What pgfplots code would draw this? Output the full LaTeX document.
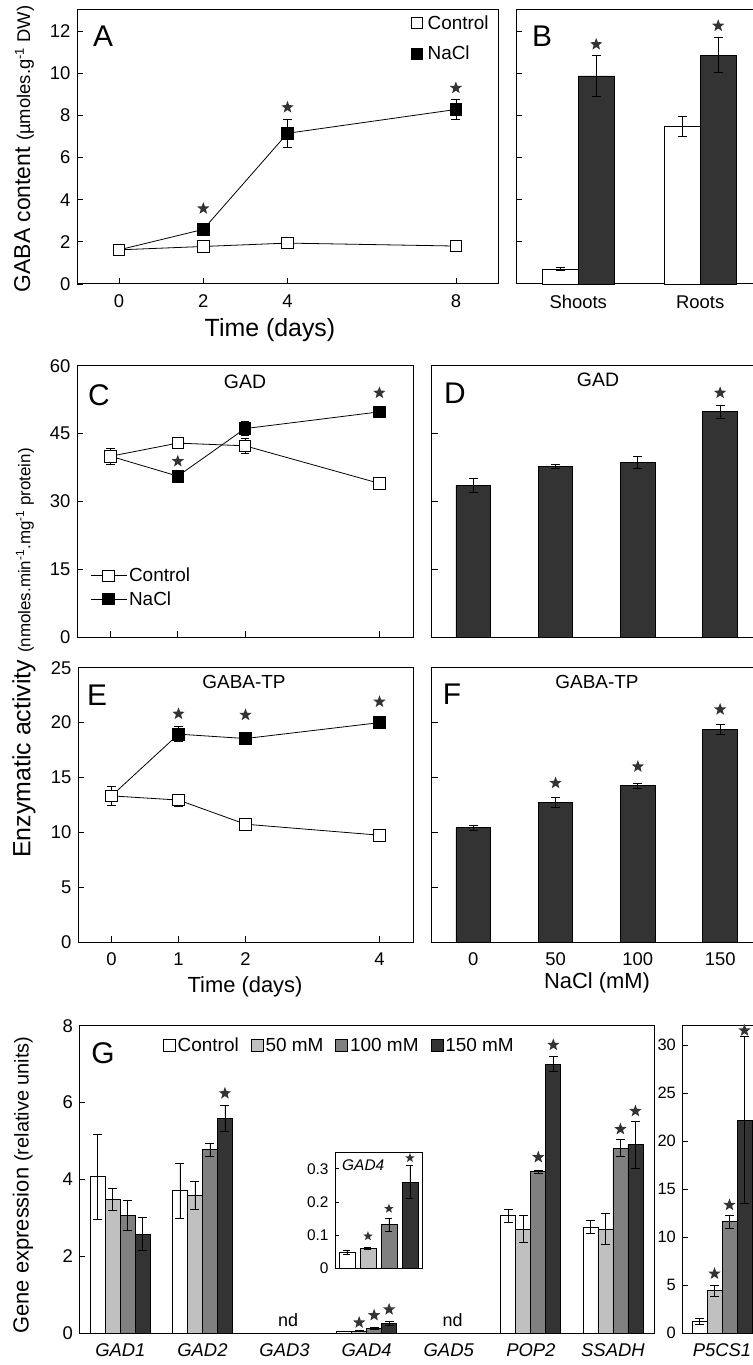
\documentclass[border=0pt]{standalone}
\usepackage{fontspec}
\setmainfont{Liberation Sans}
\usepackage{pgfplots}
\pgfplotsset{compat=1.18}

\definecolor{dk}{HTML}{333333}
\definecolor{lg}{HTML}{C0C0C0}
\definecolor{mg}{HTML}{808080}

% filled five-point star for significance
\pgfdeclareplotmark{fstar}{%
  \pgfpathmoveto{\pgfpointpolar{90}{\pgfplotmarksize}}%
  \pgfpathlineto{\pgfpointpolar{126}{0.42\pgfplotmarksize}}%
  \pgfpathlineto{\pgfpointpolar{162}{\pgfplotmarksize}}%
  \pgfpathlineto{\pgfpointpolar{198}{0.42\pgfplotmarksize}}%
  \pgfpathlineto{\pgfpointpolar{234}{\pgfplotmarksize}}%
  \pgfpathlineto{\pgfpointpolar{270}{0.42\pgfplotmarksize}}%
  \pgfpathlineto{\pgfpointpolar{306}{\pgfplotmarksize}}%
  \pgfpathlineto{\pgfpointpolar{342}{0.42\pgfplotmarksize}}%
  \pgfpathlineto{\pgfpointpolar{18}{\pgfplotmarksize}}%
  \pgfpathlineto{\pgfpointpolar{54}{0.42\pgfplotmarksize}}%
  \pgfpathclose\pgfusepathqfill}

\pgfplotsset{
  panel/.style={scale only axis, anchor=south west, clip=false,
    axis line style={line width=1pt}, tick align=inside,
    xtick pos=bottom, ytick pos=left, major tick length=6bp,
    every tick/.style={black, line width=0.8pt},
    tick label style={font=\fontsize{18.5}{18.5}\selectfont},
    x tick label style={yshift=-7bp}, y tick label style={xshift=-3bp},
    /pgf/number format/assume math mode=true, ymin=0,
    error bars/error bar style={line width=0.8pt, black},
    error bars/error mark options={rotate=90, mark size=4.5pt, line width=0.8pt, black}},
  sig/.style={only marks, mark=fstar, mark size=6.5pt, color=dk, mark options={fill=dk}},
  ctl/.style={black, line width=0.8pt, mark=square*, mark size=5.8pt, mark options={fill=white, line width=0.8pt}},
  nacl/.style={black, line width=0.8pt, mark=square*, mark size=5.8pt, mark options={fill=black}},
  errs/.style={error bars/y dir=both, error bars/y explicit},
  bar/.style={ybar, bar shift=0pt, draw=black, line width=0.8pt},
}

\begin{document}
\begin{tikzpicture}
\useasboundingbox (0,0) rectangle (753bp,1365bp);

% ---------- A ----------
\begin{axis}[panel, at={(77bp,1081bp)}, width=421bp, height=274bp,
  xmin=-1, xmax=9, ymax=13, xtick={0,2,4,8}, ytick={0,2,...,12},
  legend style={at={(0.99,0.995)}, anchor=north east, draw=none, fill=none,
    font=\fontsize{19}{19}\selectfont, row sep=11bp,
    /tikz/every odd column/.append style={column sep=3bp}}, legend cell align=left]
  \addlegendimage{only marks, mark=square*, mark size=5.5pt, mark options={fill=white, line width=0.8pt}}
  \addlegendentry{Control}
  \addlegendimage{only marks, mark=square*, mark size=5.5pt, mark options={fill=black}}
  \addlegendentry{NaCl}
  \addplot[nacl, errs, forget plot] coordinates {
    (0,1.62) +- (0,0.08) (2,2.59) +- (0,0.15) (4,7.15) +- (0,0.65) (8,8.28) +- (0,0.48)};
  \addplot[ctl, errs, forget plot] coordinates {
    (0,1.62) +- (0,0.08) (2,1.78) +- (0,0.1) (4,1.94) +- (0,0.1) (8,1.8) +- (0,0.1)};
  \addplot[sig, forget plot] coordinates {(2,3.58) (4,8.38) (8,9.3)};
\end{axis}

% ---------- B ----------
\begin{axis}[panel, at={(516bp,1081bp)}, width=245bp, height=274bp,
  xmin=-0.51, xmax=1.498, ymax=13, xtick={0,1}, xticklabels={Shoots,Roots},
  x tick label style={text height=14bp, text depth=0bp},
  x tick style={draw=none}, ytick={2,4,...,12}, yticklabels={}]
  \addplot[bar, fill=white, bar width=0.295, errs] coordinates {
    (-0.1475,0.71) +- (0,0.07) (0.8525,7.47) +- (0,0.46)};
  \addplot[bar, fill=dk, bar width=0.295, errs] coordinates {
    (0.1475,9.87) +- (0,0.97) (1.1475,10.86) +- (0,0.83)};
  \addplot[sig] coordinates {(0.1475,11.37) (1.1475,12.25)};
\end{axis}

% ---------- C ----------
\begin{axis}[panel, at={(77bp,727.7bp)}, width=336bp, height=271.6bp,
  xmin=-0.5, xmax=4.5, ymax=60, xtick={0,1,2,4}, xticklabels={},
  ytick={0,15,...,60},
  legend style={at={(0.03,0.27)}, anchor=north west, draw=none, fill=none,
    font=\fontsize{19}{19}\selectfont, row sep=4bp}, legend cell align=left,
  legend image code/.code={\draw[mark repeat=2,mark phase=2,#1] plot coordinates {(0bp,0bp) (18bp,0bp) (36bp,0bp)};}]
  \addlegendimage{ctl}
  \addlegendentry{Control}
  \addlegendimage{nacl}
  \addlegendentry{NaCl}
  \addplot[nacl, errs, forget plot] coordinates {
    (0,40) +- (0,1.8) (1,35.6) +- (0,1.0) (2,46.1) +- (0,1.5) (4,49.8) +- (0,1.0)};
  \addplot[ctl, errs, forget plot] coordinates {
    (0,40) +- (0,1.8) (1,42.9) +- (0,0.5) (2,42.3) +- (0,1.6) (4,34.0) +- (0,1.2)};
  \addplot[sig, forget plot] coordinates {(1,38.9) (4,54)};
\end{axis}

% ---------- D ----------
\begin{axis}[panel, at={(431.7bp,727.7bp)}, width=330bp, height=271.6bp,
  xmin=-0.505, xmax=3.505, ymax=60, xtick={0,1,2,3}, xticklabels={},
  x tick style={draw=none}, ytick={15,30,45}, yticklabels={}]
  \addplot[bar, fill=dk, bar width=0.42, errs] coordinates {
    (0,33.6) +- (0,1.5) (1,37.7) +- (0,0.5) (2,38.7) +- (0,1.3) (3,49.8) +- (0,1.5)};
  \addplot[sig] coordinates {(3,54)};
\end{axis}

% ---------- E ----------
\begin{axis}[panel, at={(78bp,422.7bp)}, width=335bp, height=274.6bp,
  xmin=-0.5, xmax=4.5, ymax=25, xtick={0,1,2,4}, ytick={0,5,...,25}]
  \addplot[nacl, errs] coordinates {
    (0,13.33) +- (0,0.85) (1,18.95) +- (0,0.7) (2,18.55) +- (0,0.3) (4,20.0) +- (0,0.3)};
  \addplot[ctl, errs] coordinates {
    (0,13.33) +- (0,0.85) (1,12.95) +- (0,0.55) (2,10.75) +- (0,0.2) (4,9.75) +- (0,0.2)};
  \addplot[sig] coordinates {(1,20.8) (2,20.7) (4,21.9)};
\end{axis}

% ---------- F ----------
\begin{axis}[panel, at={(431.7bp,422.7bp)}, width=330bp, height=274.6bp,
  xmin=-0.505, xmax=3.505, ymax=25, xtick={0,1,2,3}, xticklabels={0,50,100,150},
  x tick style={draw=none}, ytick={5,10,...,20}, yticklabels={}]
  \addplot[bar, fill=dk, bar width=0.42, errs] coordinates {
    (0,10.42) +- (0,0.25) (1,12.75) +- (0,0.45) (2,14.24) +- (0,0.25) (3,19.36) +- (0,0.45)};
  \addplot[sig] coordinates {(1,14.5) (2,16.0) (3,21.2)};
\end{axis}

% ---------- G ----------
\begin{axis}[panel, at={(79.3bp,31.7bp)}, width=574.7bp, height=307.6bp,
  xmin=-0.5, xmax=6.5, ymax=8, ytick={0,2,...,8},
  xtick={0,...,6}, x tick style={draw=none},
  xticklabels={\textit{GAD1},\textit{GAD2},\textit{GAD3},\textit{GAD4},\textit{GAD5},\textit{POP2},\textit{SSADH}},
  x tick label style={font=\fontsize{18.5}{18.5}\selectfont},
  legend columns=4, legend cell align=left,
  legend style={at={(0.14,0.975)}, anchor=north west, draw=none, fill=none,
    font=\fontsize{19}{19}\selectfont, /tikz/every even column/.append style={column sep=10bp}},
  legend image code/.code={\draw[#1] (0bp,-6bp) rectangle (12bp,6bp);}]
  \addplot[bar, fill=white, bar width=0.1827, errs] coordinates {
    (-0.274,4.07) +- (0,1.1) (0.726,3.71) +- (0,0.72) (2.726,0.047) +- (0,0.005)
    (4.726,3.06) +- (0,0.17) (5.726,2.76) +- (0,0.17)};
  \addlegendentry{Control}
  \addplot[bar, fill=lg, bar width=0.1827, errs] coordinates {
    (-0.0914,3.49) +- (0,0.29) (0.9086,3.58) +- (0,0.36) (2.9086,0.06) +- (0,0.005)
    (4.9086,2.71) +- (0,0.35) (5.9086,2.71) +- (0,0.41)};
  \addlegendentry{50 mM}
  \addplot[bar, fill=mg, bar width=0.1827, errs] coordinates {
    (0.0914,3.06) +- (0,0.39) (1.0914,4.77) +- (0,0.16) (3.0914,0.13) +- (0,0.02)
    (5.0914,4.2) +- (0,0.03) (6.0914,4.81) +- (0,0.22)};
  \addlegendentry{100 mM}
  \addplot[bar, fill=dk, bar width=0.1827, errs] coordinates {
    (0.274,2.58) +- (0,0.43) (1.274,5.59) +- (0,0.35) (3.274,0.26) +- (0,0.05)
    (5.274,7.0) +- (0,0.2) (6.274,4.9) +- (0,0.61)};
  \addlegendentry{150 mM}
  \addplot[sig, forget plot] coordinates {(1.274,6.24) (2.909,0.28) (3.091,0.47) (3.274,0.62)
    (5.091,4.58) (5.274,7.5) (6.091,5.31) (6.274,5.78)};
\end{axis}

% ---------- G inset (GAD4) ----------
\begin{axis}[panel, at={(335bp,96.7bp)}, width=87.3bp, height=116bp,
  axis background/.style={fill=white},
  xmin=-0.57, xmax=3.59, ymax=0.35, ytick={0,0.1,0.2,0.3}, xtick=\empty,
  tick label style={font=\fontsize{15.5}{15.5}\selectfont}, major tick length=4bp,
  error bars/error mark options={rotate=90, mark size=3.5pt, line width=0.8pt, black}]
  \addplot[bar, fill=white, bar width=0.76, errs] coordinates {(0,0.047) +- (0,0.006)};
  \addplot[bar, fill=lg, bar width=0.76, errs] coordinates {(1,0.06) +- (0,0.002)};
  \addplot[bar, fill=mg, bar width=0.76, errs] coordinates {(2,0.132) +- (0,0.02)};
  \addplot[bar, fill=dk, bar width=0.76, errs] coordinates {(3,0.26) +- (0,0.05)};
  \addplot[sig, mark size=5pt] coordinates {(1,0.097) (2,0.18) (3,0.333)};
\end{axis}

% ---------- P5CS1 ----------
\begin{axis}[panel, at={(682.3bp,31.7bp)}, width=78.7bp, height=307.6bp,
  xmin=-39.7, xmax=39, ymax=32, ytick={0,5,...,30},
  tick label style={font=\fontsize{16.5}{16.5}\selectfont},
  xtick={0}, xticklabels={\textit{P5CS1}}, x tick style={draw=none},
  x tick label style={font=\fontsize{18.5}{18.5}\selectfont}]
  \addplot[bar, fill=white, bar width=15, errs] coordinates {(-22.5,1.2) +- (0,0.3)};
  \addplot[bar, fill=lg, bar width=15, errs] coordinates {(-7.5,4.43) +- (0,0.6)};
  \addplot[bar, fill=mg, bar width=15, errs] coordinates {(7.5,11.6) +- (0,0.7)};
  \addplot[bar, fill=dk, bar width=15, errs] coordinates {(22.5,22.2) +- (0,8.7)};
  \addplot[sig] coordinates {(-7.5,6.2) (7.5,13.35) (22.5,31.5)};
\end{axis}

% ---------- texts ----------
\begin{scope}[every node/.style={inner sep=0pt}]
\node[font=\fontsize{30}{30}\selectfont] at (103bp,1329bp) {A};
\node[font=\fontsize{30}{30}\selectfont] at (542bp,1329bp) {B};
\node[font=\fontsize{30}{30}\selectfont] at (99bp,970bp) {C};
\node[font=\fontsize{30}{30}\selectfont] at (455bp,972bp) {D};
\node[font=\fontsize{30}{30}\selectfont] at (97bp,670bp) {E};
\node[font=\fontsize{30}{30}\selectfont] at (452bp,671bp) {F};
\node[font=\fontsize{30}{30}\selectfont] at (103bp,312bp) {G};
\node[font=\fontsize{19.5}{19.5}\selectfont] at (245bp,983bp) {GAD};
\node[font=\fontsize{19.5}{19.5}\selectfont] at (598bp,985bp) {GAD};
\node[font=\fontsize{19}{19}\selectfont] at (244bp,683bp) {GABA-TP};
\node[font=\fontsize{19}{19}\selectfont] at (597bp,683bp) {GABA-TP};
\node[font=\fontsize{25}{25}\selectfont] at (270bp,1035bp) {Time (days)};
\node[font=\fontsize{22}{22}\selectfont] at (245bp,378bp) {Time (days)};
\node[font=\fontsize{22}{22}\selectfont] at (597bp,382bp) {NaCl (mM)};
\node[font=\fontsize{18}{18}\selectfont] at (288bp,45bp) {nd};
\node[font=\fontsize{18}{18}\selectfont] at (452.7bp,45bp) {nd};
\node[font=\fontsize{15.5}{15.5}\selectfont\itshape, anchor=west] at (342bp,200bp) {GAD4};
\node[rotate=90, font=\fontsize{23}{23}\selectfont] at (24bp,1216bp)
  {GABA content {\fontsize{18.5}{18.5}\selectfont(µmoles.g\textsuperscript{-1} DW)}};
\node[rotate=90, font=\fontsize{25}{25}\selectfont] at (24bp,712bp)
  {Enzymatic activity {\fontsize{17}{17}\selectfont(nmoles.min\textsuperscript{-1}.mg\textsuperscript{-1} protein)}};
\node[rotate=90, font=\fontsize{22}{22}\selectfont] at (23bp,180bp)
  {Gene expression {\fontsize{20}{20}\selectfont(relative units)}};
\end{scope}
\end{tikzpicture}
\end{document}
